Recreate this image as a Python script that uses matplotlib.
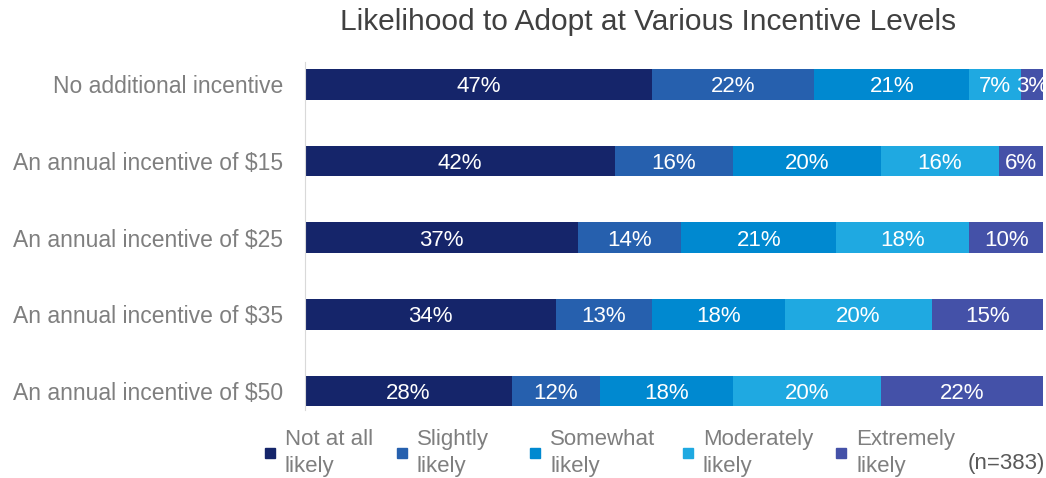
import matplotlib.pyplot as plt
import numpy as np
from matplotlib.patches import Rectangle

plt.rcParams['font.family'] = ['Liberation Sans', 'DejaVu Sans']

# data
levels = ["No additional incentive", "An annual incentive of $15", "An annual incentive of $25",
          "An annual incentive of $35", "An annual incentive of $50"]
categories = ["Not at all\nlikely", "Slightly\nlikely", "Somewhat\nlikely", "Moderately\nlikely", "Extremely\nlikely"]
not_at_all = [47, 42, 37, 34, 28]
slightly = [22, 16, 14, 13, 12]
somewhat = [21, 20, 21, 18, 18]
moderately = [7, 16, 18, 20, 20]
extremely = [3, 6, 10, 15, 22]
colors = ["#15256a", "#2660ae", "#0089d0", "#1fa9e1", "#4451a8"]

series = [not_at_all, slightly, somewhat, moderately, extremely]

fig = plt.figure(figsize=(10.46, 4.78), dpi=100)
ax = fig.add_axes([305 / 1046, 68 / 478, 738 / 1046, 348 / 478])

y = np.arange(len(levels))
left = np.zeros(len(levels))
for vals, c in zip(series, colors):
    vals = np.array(vals, dtype=float)
    ax.barh(y, vals, left=left, height=0.4, color=c)
    for yi, l, v in zip(y, left, vals):
        ax.text(l + v / 2, yi, f"{int(v)}%", ha="center", va="center_baseline",
                color="white", fontsize=16)
    left += vals

ax.set_xlim(0, 100)
ax.set_ylim(4.25, -0.29)
ax.set_yticks(y)
ax.set_yticklabels(levels, fontsize=16.5, color="#7f7f7f")
ax.tick_params(axis="y", length=0, pad=16)
ax.set_xticks([])
for s in ["top", "right", "bottom"]:
    ax.spines[s].set_visible(False)
ax.spines["left"].set_color("#d9d9d9")

fig.text(648 / 1046, 1 - 22 / 478, "Likelihood to Adopt at Various Incentive Levels",
         ha="center", va="center", fontsize=21.5, color="#404040")

# legend
leg_x = [270, 402, 535, 688, 841]
for lx, lab, c in zip(leg_x, categories, colors):
    fig.patches.append(Rectangle((lx / 1046 - 5 / 1046, 1 - 458 / 478), 10 / 1046, 10 / 478,
                                 transform=fig.transFigure, color=c))
    fig.text((lx + 15) / 1046, 1 - 453 / 478, lab, ha="left", va="center",
             fontsize=16, color="#7f7f7f", linespacing=1.35)
fig.text(1045 / 1046, 1 - 464 / 478, "(n=383)", ha="right", va="center",
         fontsize=16, color="#595959")

fig.savefig("out.png", dpi=100)
